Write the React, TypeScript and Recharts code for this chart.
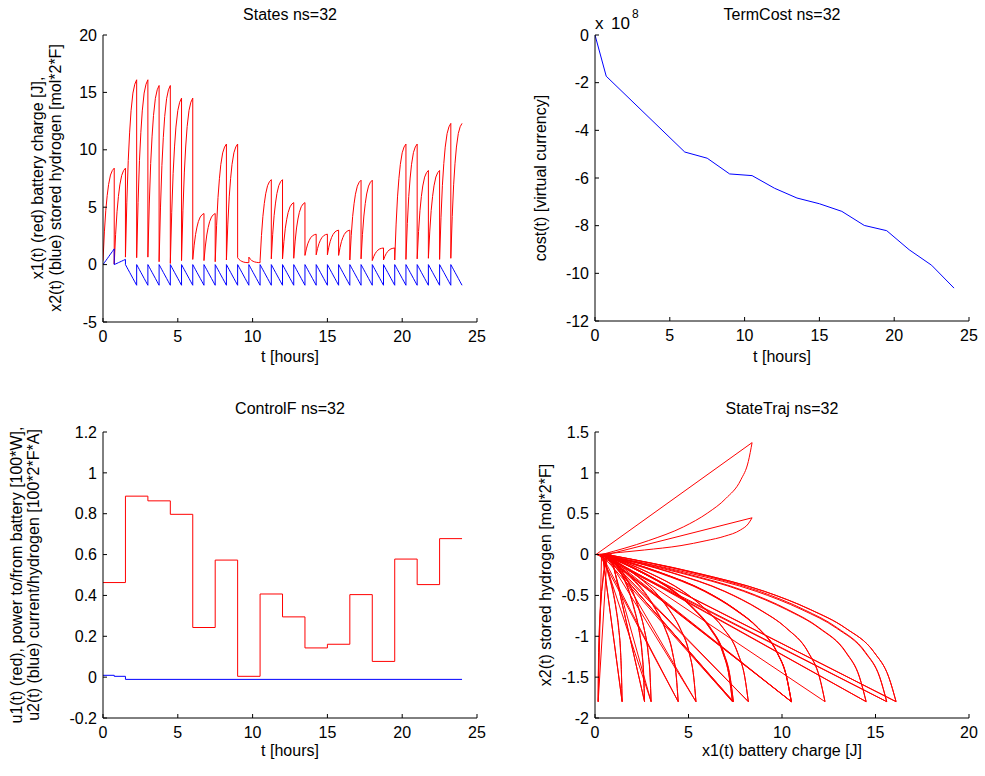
import React from 'react';
import { LineChart, Line, XAxis, YAxis } from 'recharts';

const FONT = '"Liberation Sans", Arial, Helvetica, sans-serif';

// ---- states: 32 segments of 0.75 h, each sampled at these offsets (hours)
const SEG_LEN = 0.75;
const SAMPLE_OFFSETS = [0, 0.09375, 0.1875, 0.28125, 0.375, 0.5, 0.625, 0.75];

// x1(t) battery charge [J], one row per segment
const X1_SEGMENTS = [
  [0.35, 2.85, 4.74, 6.03, 6.99, 7.8, 8.2, 8.4],
  [0.05, 2.64, 4.6, 5.94, 6.94, 7.77, 8.19, 8.4],
  [0.65, 5.44, 9.07, 11.54, 13.4, 14.94, 15.71, 16.1],
  [0.6, 5.41, 9.05, 11.53, 13.39, 14.94, 15.71, 16.1],
  [0.65, 5.28, 8.8, 11.19, 12.98, 14.48, 15.23, 15.6],
  [0.25, 5.01, 8.62, 11.07, 12.91, 14.45, 15.22, 15.6],
  [0.1, 4.56, 7.95, 10.25, 11.98, 13.42, 14.14, 14.5],
  [0.35, 4.74, 8.06, 10.33, 12.02, 13.44, 14.15, 14.5],
  [0.45, 1.69, 2.63, 3.27, 3.75, 4.15, 4.35, 4.45],
  [0.35, 1.62, 2.58, 3.24, 3.73, 4.14, 4.35, 4.45],
  [0.25, 3.43, 5.84, 7.48, 8.71, 9.73, 10.24, 10.5],
  [0.4, 3.53, 5.9, 7.52, 8.73, 9.74, 10.25, 10.5],
  [0.6, 0.45, 0.35, 0.28, 0.23, 0.19, 0.175, 0.17],
  [0.65, 0.48, 0.36, 0.29, 0.24, 0.2, 0.18, 0.17],
  [0.35, 2.54, 4.19, 5.32, 6.17, 6.87, 7.22, 7.4],
  [0.5, 2.64, 4.26, 5.36, 6.19, 6.88, 7.23, 7.4],
  [0.5, 2.02, 3.17, 3.95, 4.54, 5.03, 5.28, 5.4],
  [0.55, 2.05, 3.19, 3.97, 4.55, 5.04, 5.28, 5.4],
  [0.8, 1.37, 1.81, 2.1, 2.33, 2.51, 2.6, 2.65],
  [0.85, 1.41, 1.83, 2.12, 2.34, 2.52, 2.61, 2.65],
  [0.85, 1.52, 2.02, 2.37, 2.62, 2.84, 2.95, 3.0],
  [0.8, 1.48, 2.0, 2.35, 2.62, 2.84, 2.95, 3.0],
  [0.4, 2.55, 4.19, 5.3, 6.13, 6.83, 7.18, 7.35],
  [0.5, 2.62, 4.23, 5.33, 6.15, 6.84, 7.18, 7.35],
  [0.35, 0.69, 0.95, 1.13, 1.26, 1.37, 1.42, 1.45],
  [0.4, 0.73, 0.97, 1.14, 1.27, 1.37, 1.42, 1.45],
  [0.4, 3.53, 5.9, 7.52, 8.73, 9.74, 10.25, 10.5],
  [0.45, 3.57, 5.93, 7.54, 8.74, 9.75, 10.25, 10.5],
  [0.5, 2.89, 4.7, 5.93, 6.85, 7.62, 8.01, 8.2],
  [0.55, 2.92, 4.72, 5.94, 6.86, 7.63, 8.01, 8.2],
  [0.45, 4.12, 6.91, 8.8, 10.23, 11.41, 12.0, 12.3],
  [0.55, 4.19, 6.95, 8.83, 10.24, 11.42, 12.01, 12.3],
];

// x2(t) stored hydrogen: first two segments rise, the rest are the same tooth
const X2_SEG1 = [0, 0.17, 0.34, 0.51, 0.685, 0.915, 1.14, 1.37];
const X2_SEG2 = [0, 0.056, 0.11, 0.17, 0.225, 0.3, 0.375, 0.45];
const X2_TOOTH = [0, -0.225, -0.45, -0.675, -0.9, -1.2, -1.5, -1.8];

// ---- terminal cost (x 10^8)
const COST_T = [0, 0.75, 6, 7.5, 9, 10.5, 12, 13.5, 15, 16.5, 18, 19.5, 21, 22.5, 24];
const COST_V = [0, -1.73, -4.91, -5.17, -5.83, -5.9, -6.43, -6.84, -7.08, -7.4, -7.99, -8.21, -9.01, -9.66, -10.62];

// ---- controls
const U1_T = [0, 1.5, 3, 4.5, 6, 7.5, 9, 10.5, 12, 13.5, 15, 16.5, 18, 19.5, 21, 22.5, 24];
const U1_V = [0.463, 0.886, 0.863, 0.797, 0.243, 0.573, 0.004, 0.407, 0.295, 0.143, 0.161, 0.404, 0.077, 0.578, 0.453, 0.678, 0.678];
const U2_T = [0, 0.75, 1.5, 24];
const U2_V = [0.009, 0.004, -0.011, -0.011];

const TICKS_T = [0, 5, 10, 15, 20, 25];
const TICKS_STATES = [-5, 0, 5, 10, 15, 20];
const TICKS_COST = [-12, -10, -8, -6, -4, -2, 0];
const TICKS_CTRL = [-0.2, 0, 0.2, 0.4, 0.6, 0.8, 1, 1.2];
const TICKS_X1 = [0, 5, 10, 15, 20];
const TICKS_X2 = [-2, -1.5, -1, -0.5, 0, 0.5, 1, 1.5];

const x2Row = (k: number) => (k === 0 ? X2_SEG1 : k === 1 ? X2_SEG2 : X2_TOOTH);

const segments = X1_SEGMENTS.map((row, k) =>
  row.map((x1, i) => ({ t: k * SEG_LEN + SAMPLE_OFFSETS[i], x1, x2: x2Row(k)[i] }))
);
const stateData = segments.flat();

// straight jumps from the end of one segment to the start of the next (null breaks the line)
const jumpData = segments.slice(0, -1).flatMap((seg, k) => {
  const end = seg[seg.length - 1];
  const next = segments[k + 1][0];
  return [end, next, { t: next.t, x1: next.x1, x2: null }];
});

const costData = COST_T.map((t, i) => ({ t, cost: COST_V[i] }));
const u1Data = U1_T.map((t, i) => ({ t, u: U1_V[i] }));
const u2Data = U2_T.map((t, i) => ({ t, u: U2_V[i] }));

const tickText = { fontSize: 16, fill: '#000', fontFamily: FONT };
const black = { stroke: '#000' };
const MARGIN = { top: 10, right: 10, bottom: 0, left: 0 };

// MATLAB-style box: inward ticks on all four sides, labels bottom/left only
function boxAxes(xKey: string, xDom: number[], xTicks: number[], yDom: number[], yTicks: number[]) {
  return [
    <XAxis key="xb" xAxisId="b" orientation="bottom" type="number" dataKey={xKey} domain={xDom} ticks={xTicks}
      allowDataOverflow interval={0} height={30} tickSize={-4} tickMargin={13} tick={tickText} axisLine={black} tickLine={black} />,
    <XAxis key="xt" xAxisId="t" orientation="top" type="number" domain={xDom} ticks={xTicks}
      allowDataOverflow interval={0} height={0} tickSize={-4} tick={false} axisLine={black} tickLine={black} />,
    <YAxis key="yl" yAxisId="l" orientation="left" type="number" domain={yDom} ticks={yTicks}
      allowDataOverflow interval={0} width={50} tickSize={-4} tickMargin={10} tick={tickText} axisLine={black} tickLine={black} />,
    <YAxis key="yr" yAxisId="r" orientation="right" type="number" domain={yDom} ticks={yTicks}
      allowDataOverflow interval={0} width={0} tickSize={-4} tick={false} axisLine={black} tickLine={black} />,
  ];
}

function Txt({ x, y, children, rotate, size = 16, center = true }: any) {
  return (
    <div
      style={{
        position: 'absolute', left: x, top: y, whiteSpace: 'nowrap', fontFamily: FONT, fontSize: size, lineHeight: 1,
        transform: `${center ? 'translate(-50%,-50%)' : 'translate(0,-50%)'}${rotate ? ' rotate(-90deg)' : ''}`,
      }}
    >
      {children}
    </div>
  );
}

export default function App() {
  return (
    <div style={{ position: 'absolute', left: 0, top: 0, width: 985, height: 776, background: '#fff', color: '#000' }}>
      {/* States */}
      <div style={{ position: 'absolute', left: 53, top: 25 }}>
        <LineChart width={434} height={327} data={stateData} margin={MARGIN}>
          {boxAxes('t', [0, 25], TICKS_T, [-5, 20], TICKS_STATES)}
          <Line xAxisId="b" yAxisId="l" type="linear" dataKey="x1" stroke="#ff0000" strokeWidth={1} dot={false} isAnimationActive={false} />
          <Line xAxisId="b" yAxisId="l" type="linear" dataKey="x2" stroke="#0000ff" strokeWidth={1} dot={false} isAnimationActive={false} />
        </LineChart>
      </div>
      {/* TermCost */}
      <div style={{ position: 'absolute', left: 545, top: 25 }}>
        <LineChart width={434} height={326} data={costData} margin={MARGIN}>
          {boxAxes('t', [0, 25], TICKS_T, [-12, 0], TICKS_COST)}
          <Line xAxisId="b" yAxisId="l" type="linear" dataKey="cost" stroke="#0000ff" strokeWidth={1} dot={false} isAnimationActive={false} />
        </LineChart>
      </div>
      {/* ControlF */}
      <div style={{ position: 'absolute', left: 53, top: 422 }}>
        <LineChart width={434} height={326} margin={MARGIN}>
          {boxAxes('t', [0, 25], TICKS_T, [-0.2, 1.2], TICKS_CTRL)}
          <Line xAxisId="b" yAxisId="l" data={u1Data} type="stepAfter" dataKey="u" stroke="#ff0000" strokeWidth={1} dot={false} isAnimationActive={false} />
          <Line xAxisId="b" yAxisId="l" data={u2Data} type="stepAfter" dataKey="u" stroke="#0000ff" strokeWidth={1} dot={false} isAnimationActive={false} />
        </LineChart>
      </div>
      {/* StateTraj */}
      <div style={{ position: 'absolute', left: 545, top: 422 }}>
        <LineChart width={434} height={326} margin={MARGIN}>
          {boxAxes('x1', [0, 20], TICKS_X1, [-2, 1.5], TICKS_X2)}
          {segments.map((seg, k) => (
            <Line key={k} xAxisId="b" yAxisId="l" data={seg} type={seg[0].x1 > seg[seg.length - 1].x1 ? 'linear' : 'monotone'}
              dataKey="x2" stroke="#ff0000" strokeWidth={1} dot={false} isAnimationActive={false} />
          ))}
          <Line xAxisId="b" yAxisId="l" data={jumpData} type="linear" dataKey="x2" stroke="#ff0000" strokeWidth={1}
            dot={false} connectNulls={false} isAnimationActive={false} />
        </LineChart>
      </div>

      <Txt x={290} y={15}>States ns=32</Txt>
      <Txt x={782} y={15}>TermCost ns=32</Txt>
      <Txt x={290} y={409}>ControlF ns=32</Txt>
      <Txt x={782} y={409}>StateTraj ns=32</Txt>

      <Txt x={290} y={357}>t [hours]</Txt>
      <Txt x={782} y={357}>t [hours]</Txt>
      <Txt x={290} y={751}>t [hours]</Txt>
      <Txt x={782} y={751}>x1(t) battery charge [J]</Txt>

      <Txt x={38} y={178} rotate>x1(t) (red) battery charge [J],</Txt>
      <Txt x={56} y={178} rotate>x2(t) (blue) stored hydrogen [mol*2*F]</Txt>
      <Txt x={541} y={178} rotate>cost(t) [virtual currency]</Txt>
      <Txt x={17} y={575} rotate>u1(t) (red), power to/from battery [100*W],</Txt>
      <Txt x={34} y={575} rotate>u2(t) (blue) current/hydrogen [100*2*F*A]</Txt>
      <Txt x={546} y={575} rotate>x2(t) stored hydrogen [mol*2*F]</Txt>

      <Txt x={595} y={23} center={false} size={17}>x</Txt>
      <Txt x={611} y={23} center={false} size={17}>10</Txt>
      <Txt x={632} y={14} center={false} size={12}>8</Txt>
    </div>
  );
}
